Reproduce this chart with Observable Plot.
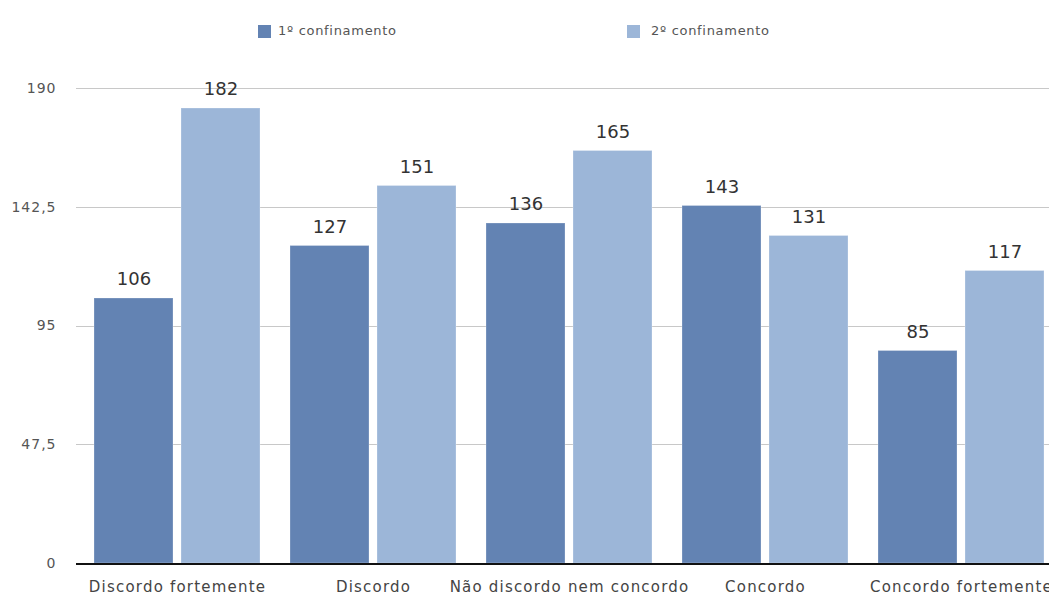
<!DOCTYPE html>
<html>
<head>
<meta charset="utf-8">
<script src="https://cdn.jsdelivr.net/npm/d3@7"></script>
<script src="https://cdn.jsdelivr.net/npm/@observablehq/plot@0.6"></script>
<style>
  html, body { margin: 0; padding: 0; background: #fff; overflow: hidden; width: 1049px; height: 595px; }
  body { font-family: "DejaVu Sans", sans-serif; }
  #legend { position: relative; height: 50px; }
  .sw { position: absolute; top: 25px; width: 13px; height: 13px; }
  .lt { position: absolute; top: 23px; font-size: 13px; color: #555; line-height: 16px; letter-spacing: 0.7px; }
  #chart { width: 1063px; }
  #chart svg { display: block; overflow: visible; max-width: none !important; }
  .spaced text { letter-spacing: 1.2px; }
  .yspaced text { letter-spacing: 1px; }
</style>
</head>
<body>
<div id="legend"></div>
<div id="chart"></div>
<script>
const categories = ["Discordo fortemente", "Discordo", "Não discordo nem concordo", "Concordo", "Concordo fortemente"];
const seriesNames = ["1º confinamento", "2º confinamento"];
const values1 = [106, 127, 136, 143, 85];
const values2 = [182, 151, 165, 131, 117];
const yTicks = [0, 47.5, 95, 142.5, 190];
const colors = ["#6383b3", "#9cb6d8"];

const data = [];
categories.forEach((c, i) => {
  data.push({category: c, series: seriesNames[0], value: values1[i]});
  data.push({category: c, series: seriesNames[1], value: values2[i]});
});

// Legend
const legend = document.getElementById("legend");
const legendPos = [[258, 278], [627, 651]];
seriesNames.forEach((s, i) => {
  const sw = document.createElement("div");
  sw.className = "sw";
  sw.style.left = legendPos[i][0] + "px";
  sw.style.background = colors[i];
  legend.appendChild(sw);
  const t = document.createElement("div");
  t.className = "lt";
  t.style.left = legendPos[i][1] + "px";
  t.textContent = s;
  legend.appendChild(t);
});

const fmt = d => String(d).replace(".", ",");

const chart = Plot.plot({
  width: 1063,
  height: 545,
  marginLeft: 75,
  marginRight: 0,
  marginTop: 38,
  marginBottom: 32,
  facet: {marginTop: 0, marginRight: 0, marginBottom: 0, marginLeft: 0},
  style: {fontFamily: "'DejaVu Sans', sans-serif", background: "#fff", maxWidth: "none"},
  fx: {domain: categories, paddingInner: 0.155, paddingOuter: 0.092, label: null},
  x: {domain: seriesNames, paddingInner: 0.092, paddingOuter: 0, axis: null},
  y: {domain: [0, 190], ticks: yTicks, label: null},
  color: {domain: seriesNames, range: colors},
  marks: [
    Plot.ruleY(yTicks.filter(d => d > 0), {stroke: "#c8c8c8", strokeWidth: 1, insetLeft: -18, insetRight: -18, shapeRendering: "crispEdges"}),
    Plot.axisY(yTicks, {tickSize: 0, tickPadding: 38, tickFormat: fmt, fontSize: 14, fill: "#555", label: null, className: "yspaced"}),
    Plot.axisFx({anchor: "bottom", tickSize: 0, tickPadding: 18, fontSize: 15, fill: "#444", label: null, className: "spaced"}),
    Plot.barY(data, {fx: "category", x: "series", y: "value", fill: "series", stroke: "#ffffff", strokeOpacity: 0.25, strokeWidth: 1}),
    Plot.text(data, {fx: "category", x: "series", y: "value", text: d => String(d.value), dy: -19, fontSize: 18, fill: "#333"}),
    Plot.ruleY([0], {stroke: "#111", strokeWidth: 2, insetLeft: -18, insetRight: -18, shapeRendering: "crispEdges"})
  ]
});
document.getElementById("chart").appendChild(chart);
</script>
</body>
</html>
